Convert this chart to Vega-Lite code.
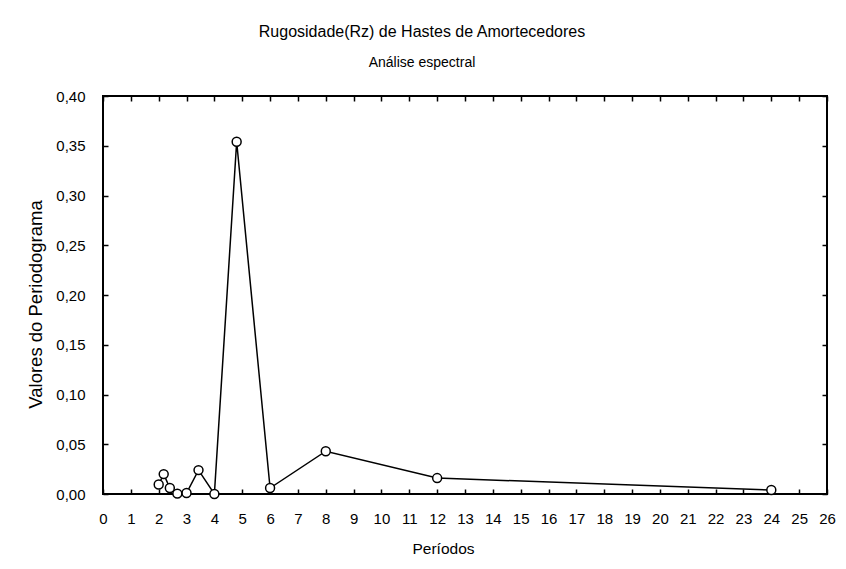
{
  "$schema": "https://vega.github.io/schema/vega-lite/v6.json",
  "width": 724,
  "height": 398,
  "autosize": "none",
  "padding": {"left": 103, "top": 96, "right": 19, "bottom": 75},
  "background": "white",
  "config": {
    "font": "Liberation Sans",
    "view": {"stroke": "black", "strokeWidth": 2},
    "axis": {"grid": false, "domain": false, "tickColor": "black", "labelColor": "black", "titleColor": "black", "labelFont": "Liberation Sans", "titleFont": "Liberation Sans", "labelFontSize": 15, "titleFontSize": 15.5, "titleFontWeight": "normal", "tickWidth": 1.5}
  },
  "title": {
    "text": "Rugosidade(Rz) de Hastes de Amortecedores",
    "subtitle": "Análise espectral",
    "anchor": "middle",
    "dx": -43,
    "fontSize": 16,
    "fontWeight": "normal",
    "subtitleFontSize": 14,
    "color": "black",
    "subtitleColor": "black",
    "font": "Liberation Sans",
    "subtitleFont": "Liberation Sans",
    "subtitlePadding": 16,
    "offset": 19
  },
  "data": {
    "values": [
      {"periodo": 2.0, "valor": 0.0095},
      {"periodo": 2.18, "valor": 0.020},
      {"periodo": 2.4, "valor": 0.006},
      {"periodo": 2.67, "valor": 0.0004},
      {"periodo": 3.0, "valor": 0.001},
      {"periodo": 3.43, "valor": 0.024},
      {"periodo": 4.0, "valor": 0.0},
      {"periodo": 4.8, "valor": 0.354},
      {"periodo": 6.0, "valor": 0.006},
      {"periodo": 8.0, "valor": 0.043},
      {"periodo": 12.0, "valor": 0.016},
      {"periodo": 24.0, "valor": 0.004}
    ]
  },
  "layer": [
    {
      "mark": {"type": "line", "color": "black", "strokeWidth": 1.5, "point": {"filled": false, "fill": "white", "stroke": "black", "strokeWidth": 1.5, "size": 80, "opacity": 1}},
      "encoding": {
        "x": {"field": "periodo", "type": "quantitative", "scale": {"domain": [0, 26], "nice": false, "zero": false},
          "axis": {"orient": "bottom", "title": "Períodos", "values": [0,1,2,3,4,5,6,7,8,9,10,11,12,13,14,15,16,17,18,19,20,21,22,23,24,25,26], "tickSize": -5, "labelPadding": 22, "titlePadding": 15, "titleX": 340, "labelFlush": false, "labelOverlap": false}},
        "y": {"field": "valor", "type": "quantitative", "scale": {"domain": [0, 0.4], "nice": false},
          "axis": {"orient": "left", "title": "Valores do Periodograma", "titleFontSize": 18.5, "titleY": 208, "values": [0, 0.05, 0.1, 0.15, 0.2, 0.25, 0.3, 0.35, 0.4], "tickSize": -5, "labelPadding": 23, "titlePadding": 10, "labelExpr": "replace(format(datum.value, '.2f'), '.', ',')", "labelFlush": false}}
      }
    },
    {
      "mark": {"type": "point", "opacity": 0},
      "encoding": {
        "x": {"field": "periodo", "type": "quantitative", "scale": {"domain": [0, 26], "nice": false, "zero": false},
          "axis": {"orient": "top", "title": null, "labels": false, "values": [0,1,2,3,4,5,6,7,8,9,10,11,12,13,14,15,16,17,18,19,20,21,22,23,24,25,26], "tickSize": -5}},
        "y": {"field": "valor", "type": "quantitative", "scale": {"domain": [0, 0.4], "nice": false},
          "axis": {"orient": "right", "title": null, "labels": false, "values": [0, 0.05, 0.1, 0.15, 0.2, 0.25, 0.3, 0.35, 0.4], "tickSize": -5}}
      }
    }
  ],
  "resolve": {"axis": {"x": "independent", "y": "independent"}}
}
